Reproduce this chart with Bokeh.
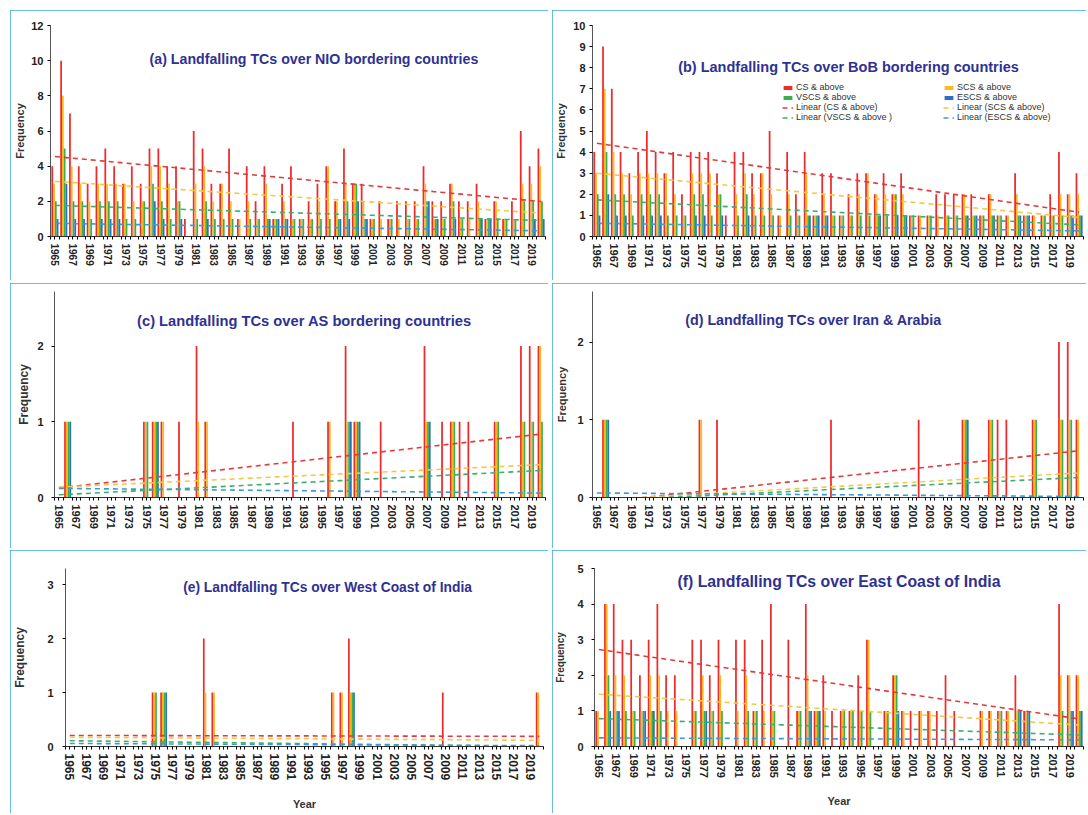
import numpy as np
from bokeh.plotting import figure
from bokeh.models import Range1d, FixedTicker, Label, Legend, LegendItem, ColumnDataSource, Spacer
from bokeh.layouts import column, row
from bokeh.embed import file_html
from bokeh.resources import INLINE

# ---------------- data ----------------
YEARS = list(range(1965, 2021))
TICK_YEARS = list(range(1965, 2020, 2))
SERIES_NAMES = ["CS & above", "SCS & above", "VSCS & above", "ESCS & above"]
TREND_NAMES = ["Linear (CS & above)", "Linear (SCS & above)",
               "Linear (VSCS & above )", "Linear (ESCS & above)"]
TITLES = ["(a) Landfalling TCs over NIO bordering countries",
          "(b) Landfalling TCs over BoB bordering countries",
          "(c) Landfalling TCs over AS bordering countries",
          "(d) Landfalling TCs over Iran & Arabia",
          "(e) Landfalling TCs over West Coast of India",
          "(f) Landfalling TCs over East Coast of India"]

# (a) NIO bordering countries
NIO_CS = [4, 10, 7, 4, 3, 4, 5, 4, 3, 4,
          3, 5, 5, 4, 4, 1, 6, 5, 3, 3,
          5, 1, 4, 2, 4, 1, 3, 4, 1, 2,
          3, 4, 2, 5, 3, 3, 1, 2, 1, 2,
          2, 2, 4, 2, 2, 3, 2, 2, 3, 1,
          2, 1, 2, 6, 4, 5]
NIO_SCS = [3, 8, 4, 3, 2, 3, 3, 3, 3, 2,
           2, 4, 4, 3, 2, 0, 3, 4, 2, 3,
           2, 1, 2, 1, 3, 1, 2, 1, 1, 1,
           2, 4, 2, 3, 3, 2, 1, 1, 1, 1,
           1, 1, 3, 1, 1, 3, 1, 1, 2, 1,
           2, 1, 1, 3, 3, 4]
NIO_VSCS = [2, 5, 2, 2, 1, 2, 2, 2, 1, 1,
            2, 3, 2, 1, 2, 0, 1, 2, 1, 1,
            1, 0, 1, 1, 1, 1, 1, 1, 1, 1,
            1, 1, 1, 2, 3, 1, 1, 0, 1, 0,
            1, 1, 2, 1, 1, 2, 1, 0, 1, 1,
            1, 1, 1, 2, 2, 2]
NIO_ESCS = [1, 3, 1, 1, 0, 1, 1, 1, 0, 0,
            0, 2, 1, 0, 1, 0, 0, 1, 0, 0,
            0, 0, 0, 0, 1, 1, 1, 0, 0, 0,
            0, 0, 1, 1, 2, 1, 0, 0, 0, 0,
            0, 0, 2, 1, 0, 1, 0, 0, 1, 1,
            0, 0, 0, 0, 1, 1]

# (b) BoB bordering countries
BOB_CS = [4, 9, 7, 4, 3, 4, 5, 4, 3, 4,
          2, 4, 4, 4, 3, 1, 4, 4, 3, 3,
          5, 1, 4, 2, 4, 1, 3, 3, 1, 2,
          3, 3, 2, 3, 2, 3, 1, 1, 1, 2,
          2, 2, 2, 2, 1, 2, 1, 1, 3, 1,
          1, 1, 2, 4, 2, 3]
BOB_SCS = [3, 7, 4, 3, 2, 3, 3, 3, 3, 2,
           1, 3, 3, 3, 2, 0, 2, 3, 2, 3,
           2, 1, 2, 1, 3, 1, 2, 1, 1, 1,
           2, 3, 2, 2, 2, 2, 1, 1, 1, 1,
           1, 1, 2, 1, 1, 2, 1, 1, 2, 1,
           1, 1, 1, 2, 2, 2]
BOB_VSCS = [2, 4, 2, 2, 1, 2, 2, 2, 1, 1,
            1, 2, 2, 1, 2, 0, 1, 2, 1, 1,
            1, 0, 1, 1, 1, 1, 1, 1, 1, 1,
            1, 1, 1, 1, 2, 1, 1, 0, 1, 0,
            1, 1, 1, 1, 1, 1, 1, 0, 1, 1,
            0, 1, 1, 1, 1, 1]
BOB_ESCS = [1, 2, 1, 1, 0, 1, 1, 1, 0, 0,
            0, 1, 1, 0, 1, 0, 0, 1, 0, 0,
            0, 0, 0, 0, 1, 1, 1, 0, 0, 0,
            0, 0, 1, 0, 1, 1, 0, 0, 0, 0,
            0, 0, 1, 1, 0, 1, 0, 0, 1, 1,
            0, 0, 0, 0, 1, 1]

# (c) AS bordering countries
AS_CS = [0, 1, 0, 0, 0, 0, 0, 0, 0, 0,
         1, 1, 1, 0, 1, 0, 2, 1, 0, 0,
         0, 0, 0, 0, 0, 0, 0, 1, 0, 0,
         0, 1, 0, 2, 1, 0, 0, 1, 0, 0,
         0, 0, 2, 0, 1, 1, 1, 1, 0, 0,
         1, 0, 0, 2, 2, 2]
AS_SCS = [0, 1, 0, 0, 0, 0, 0, 0, 0, 0,
          1, 1, 1, 0, 0, 0, 1, 1, 0, 0,
          0, 0, 0, 0, 0, 0, 0, 0, 0, 0,
          0, 1, 0, 1, 1, 0, 0, 0, 0, 0,
          0, 0, 1, 0, 0, 1, 0, 0, 0, 0,
          1, 0, 0, 1, 1, 2]
AS_VSCS = [0, 1, 0, 0, 0, 0, 0, 0, 0, 0,
           1, 1, 0, 0, 0, 0, 0, 0, 0, 0,
           0, 0, 0, 0, 0, 0, 0, 0, 0, 0,
           0, 0, 0, 1, 1, 0, 0, 0, 0, 0,
           0, 0, 1, 0, 0, 1, 0, 0, 0, 0,
           1, 0, 0, 1, 1, 1]
AS_ESCS = [0, 1, 0, 0, 0, 0, 0, 0, 0, 0,
           0, 1, 0, 0, 0, 0, 0, 0, 0, 0,
           0, 0, 0, 0, 0, 0, 0, 0, 0, 0,
           0, 0, 0, 1, 1, 0, 0, 0, 0, 0,
           0, 0, 1, 0, 0, 0, 0, 0, 0, 0,
           0, 0, 0, 0, 0, 0]

# (d) Iran & Arabia
IA_CS = [0, 1, 0, 0, 0, 0, 0, 0, 0, 0,
         0, 0, 1, 0, 1, 0, 0, 0, 0, 0,
         0, 0, 0, 0, 0, 0, 0, 1, 0, 0,
         0, 0, 0, 0, 0, 0, 0, 1, 0, 0,
         0, 0, 1, 0, 0, 1, 1, 1, 0, 0,
         1, 0, 0, 2, 2, 1]
IA_SCS = [0, 1, 0, 0, 0, 0, 0, 0, 0, 0,
          0, 0, 1, 0, 0, 0, 0, 0, 0, 0,
          0, 0, 0, 0, 0, 0, 0, 0, 0, 0,
          0, 0, 0, 0, 0, 0, 0, 0, 0, 0,
          0, 0, 1, 0, 0, 1, 0, 0, 0, 0,
          1, 0, 0, 1, 1, 1]
IA_VSCS = [0, 1, 0, 0, 0, 0, 0, 0, 0, 0,
           0, 0, 0, 0, 0, 0, 0, 0, 0, 0,
           0, 0, 0, 0, 0, 0, 0, 0, 0, 0,
           0, 0, 0, 0, 0, 0, 0, 0, 0, 0,
           0, 0, 1, 0, 0, 1, 0, 0, 0, 0,
           1, 0, 0, 1, 1, 0]
IA_ESCS = [0, 1, 0, 0, 0, 0, 0, 0, 0, 0,
           0, 0, 0, 0, 0, 0, 0, 0, 0, 0,
           0, 0, 0, 0, 0, 0, 0, 0, 0, 0,
           0, 0, 0, 0, 0, 0, 0, 0, 0, 0,
           0, 0, 1, 0, 0, 0, 0, 0, 0, 0,
           0, 0, 0, 0, 0, 0]

# (e) West Coast of India
WC_CS = [0, 0, 0, 0, 0, 0, 0, 0, 0, 0,
         1, 1, 0, 0, 0, 0, 2, 1, 0, 0,
         0, 0, 0, 0, 0, 0, 0, 0, 0, 0,
         0, 1, 1, 2, 0, 0, 0, 0, 0, 0,
         0, 0, 0, 0, 1, 0, 0, 0, 0, 0,
         0, 0, 0, 0, 0, 1]
WC_SCS = [0, 0, 0, 0, 0, 0, 0, 0, 0, 0,
          1, 1, 0, 0, 0, 0, 1, 1, 0, 0,
          0, 0, 0, 0, 0, 0, 0, 0, 0, 0,
          0, 1, 1, 1, 0, 0, 0, 0, 0, 0,
          0, 0, 0, 0, 0, 0, 0, 0, 0, 0,
          0, 0, 0, 0, 0, 1]
WC_VSCS = [0, 0, 0, 0, 0, 0, 0, 0, 0, 0,
           1, 1, 0, 0, 0, 0, 0, 0, 0, 0,
           0, 0, 0, 0, 0, 0, 0, 0, 0, 0,
           0, 0, 0, 1, 0, 0, 0, 0, 0, 0,
           0, 0, 0, 0, 0, 0, 0, 0, 0, 0,
           0, 0, 0, 0, 0, 0]
WC_ESCS = [0, 0, 0, 0, 0, 0, 0, 0, 0, 0,
           0, 1, 0, 0, 0, 0, 0, 0, 0, 0,
           0, 0, 0, 0, 0, 0, 0, 0, 0, 0,
           0, 0, 0, 1, 0, 0, 0, 0, 0, 0,
           0, 0, 0, 0, 0, 0, 0, 0, 0, 0,
           0, 0, 0, 0, 0, 0]

# (f) East Coast of India
EC_CS = [1, 4, 4, 3, 3, 2, 3, 4, 2, 2,
         0, 3, 3, 2, 3, 0, 3, 3, 1, 3,
         4, 0, 3, 1, 4, 1, 2, 1, 1, 1,
         2, 3, 0, 1, 2, 1, 1, 1, 1, 1,
         2, 1, 0, 0, 1, 1, 1, 1, 2, 1,
         0, 0, 0, 4, 2, 2]
EC_SCS = [1, 4, 2, 2, 1, 1, 2, 2, 1, 1,
          0, 1, 2, 1, 2, 0, 1, 2, 1, 1,
          1, 0, 0, 1, 2, 1, 1, 0, 1, 1,
          1, 3, 0, 1, 2, 1, 0, 1, 1, 0,
          0, 0, 0, 0, 1, 1, 1, 1, 1, 1,
          0, 0, 0, 2, 2, 2]
EC_VSCS = [0, 2, 1, 1, 1, 1, 1, 1, 0, 0,
           0, 1, 1, 1, 1, 0, 0, 1, 1, 0,
           1, 0, 0, 1, 1, 1, 0, 0, 1, 1,
           1, 1, 0, 1, 2, 0, 0, 0, 0, 0,
           0, 0, 0, 0, 0, 0, 1, 0, 1, 1,
           0, 0, 0, 1, 1, 1]
EC_ESCS = [0, 1, 1, 0, 0, 1, 1, 0, 0, 0,
           0, 0, 1, 0, 0, 0, 0, 0, 0, 0,
           0, 0, 0, 0, 1, 1, 0, 0, 0, 0,
           0, 0, 0, 0, 1, 0, 0, 0, 0, 0,
           0, 0, 0, 0, 0, 0, 0, 0, 1, 1,
           0, 0, 0, 0, 1, 1]

# ---------------- style ----------------
BAR_COLORS = ["#F02A2A", "#FFB81E", "#3DAE4F", "#2C6FC6"]
TREND_COLORS = ["#E23B3B", "#F5C84A", "#3BAF6E", "#3A9AD9"]
FONT = "Liberation Sans"
TITLE_COLOR = "#2E3192"
OFFSETS = [-0.3, -0.1, 0.1, 0.3]
LEFT_W, RIGHT_W = 538, 534


def make_panel(title, series, ymax, yticks, w, h, borders, title_xy, title_size,
               xlab_size, flab_size, ytick_standoff, flab_standoff,
               year_label=False, year_standoff=8, legend=False):
    bl, bt, bb, br = borders
    p = figure(width=w, height=h, x_range=Range1d(1964.5, 2020.5),
               y_range=Range1d(0, ymax), output_backend="svg",
               toolbar_location=None, min_border_left=bl, min_border_top=bt,
               min_border_bottom=bb, min_border_right=br)
    p.outline_line_color = None
    p.xgrid.visible = False
    p.ygrid.visible = False
    p.styles = {"outline": "2px solid #34A8E0", "outline-offset": "-2px"}

    yrs = np.array(YEARS, dtype=float)
    bar_r, line_r = [], []
    for i, vals in enumerate(series):
        src = ColumnDataSource(dict(x=yrs + OFFSETS[i], top=vals))
        r = p.vbar(x="x", top="top", width=0.2, source=src,
                   fill_color=BAR_COLORS[i], line_color=None)
        bar_r.append(r)
    for i, vals in enumerate(series):
        coef = np.polyfit(yrs, np.array(vals, dtype=float), 1)
        lr = p.line(yrs, np.polyval(coef, yrs), line_color=TREND_COLORS[i],
                    line_width=1.6, line_dash="5 4")
        line_r.append(lr)

    # axes
    p.xaxis.ticker = FixedTicker(ticks=TICK_YEARS,
                                 minor_ticks=[y + 0.5 for y in range(1964, 2021)])
    p.xaxis.major_label_orientation = "vertical"
    p.xaxis.major_tick_in = 0
    p.xaxis.major_tick_out = 3
    p.xaxis.minor_tick_in = 0
    p.xaxis.minor_tick_out = 3
    p.xaxis.major_label_standoff = 4
    p.xaxis.major_label_text_font = FONT
    p.xaxis.major_label_text_font_style = "bold"
    p.xaxis.major_label_text_font_size = f"{xlab_size}px"
    p.xaxis.major_label_text_color = "#222222"
    p.xaxis.axis_line_color = "#333333"
    p.xaxis.axis_line_width = 1.2
    if year_label:
        p.xaxis.axis_label = "Year"
        p.xaxis.axis_label_text_font = FONT
        p.xaxis.axis_label_text_font_style = "bold"
        p.xaxis.axis_label_text_font_size = "11px"
        p.xaxis.axis_label_text_color = "#333333"
        p.xaxis.axis_label_standoff = year_standoff

    p.yaxis.ticker = FixedTicker(ticks=yticks)
    p.yaxis.minor_tick_line_color = None
    p.yaxis.major_tick_in = 0
    p.yaxis.major_tick_out = 3
    p.yaxis.major_label_standoff = ytick_standoff
    p.yaxis.major_label_text_font = FONT
    p.yaxis.major_label_text_font_style = "bold"
    p.yaxis.major_label_text_font_size = "11px"
    p.yaxis.major_label_text_color = "#222222"
    p.yaxis.axis_line_color = "#555555"
    p.yaxis.axis_label = "Frequency"
    p.yaxis.axis_label_text_font = FONT
    p.yaxis.axis_label_text_font_style = "bold"
    p.yaxis.axis_label_text_font_size = f"{flab_size}px"
    p.yaxis.axis_label_text_color = "#333333"
    p.yaxis.axis_label_standoff = flab_standoff

    p.add_layout(Label(x=title_xy[0], y=title_xy[1], text=title,
                       text_align="center", text_baseline="middle",
                       text_font=FONT, text_font_style="bold",
                       text_font_size=f"{title_size}px", text_color=TITLE_COLOR))

    if legend:
        cols = [[0, 2], [1, 3]]
        locs = [(190, 114), (351, 114)]
        for ci, idxs in enumerate(cols):
            items = [LegendItem(label=SERIES_NAMES[k], renderers=[bar_r[k]]) for k in idxs]
            items += [LegendItem(label=TREND_NAMES[k], renderers=[line_r[k]]) for k in idxs]
            leg = Legend(items=items, location=locs[ci], orientation="vertical",
                         label_text_font=FONT, label_text_font_size="9px",
                         label_text_color="#333333", label_height=9, label_standoff=3,
                         glyph_width=11, glyph_height=5, spacing=0, padding=0, margin=0,
                         background_fill_alpha=0, border_line_color=None)
            p.add_layout(leg)
    return p


pa = make_panel(TITLES[0], [NIO_CS, NIO_SCS, NIO_VSCS, NIO_ESCS], 12, list(range(0, 13, 2)),
                LEFT_W, 270, (40, 15, 44, 3), (1994.3, 10.1), 14.2, 10, 11, 4, 2)
pb = make_panel(TITLES[1], [BOB_CS, BOB_SCS, BOB_VSCS, BOB_ESCS], 10, list(range(0, 11)),
                RIGHT_W, 270, (40, 15, 42, 3), (1993.7, 8.03), 14.5, 11, 11, 4, 3,
                legend=True)
pc = make_panel(TITLES[2], [AS_CS, AS_SCS, AS_VSCS, AS_ESCS], 2.72, [0, 1, 2],
                LEFT_W, 265, (44, 3, 51, 3), (1993.0, 2.33), 14.7, 11, 12, 8, 3)
pd_ = make_panel(TITLES[3], [IA_CS, IA_SCS, IA_VSCS, IA_ESCS], 2.65, [0, 1, 2],
                 RIGHT_W, 265, (40, 8, 48, 3), (1989.7, 2.28), 14.3, 11, 11, 6, 6)
pe = make_panel(TITLES[4], [WC_CS, WC_SCS, WC_VSCS, WC_ESCS], 3.3, [0, 1, 2, 3],
                LEFT_W, 263, (53, 6, 66, 5), (1995.2, 2.95), 13.8, 12, 12, 9, 17,
                year_label=True, year_standoff=15)
pf = make_panel(TITLES[5], [EC_CS, EC_SCS, EC_VSCS, EC_ESCS], 5, list(range(0, 6)),
                RIGHT_W, 263, (41, 18, 65, 3), (1992.5, 4.64), 15.8, 11, 10, 8, 8,
                year_label=True, year_standoff=14)

layout = column(
    Spacer(width=1086, height=10),
    row(Spacer(width=10, height=270), pa, Spacer(width=4, height=270), pb),
    Spacer(width=1086, height=3),
    row(Spacer(width=10, height=265), pc, Spacer(width=4, height=265), pd_),
    Spacer(width=1086, height=2),
    row(Spacer(width=10, height=263), pe, Spacer(width=4, height=263), pf),
)
open("out.html", "w").write(file_html(layout, INLINE))
